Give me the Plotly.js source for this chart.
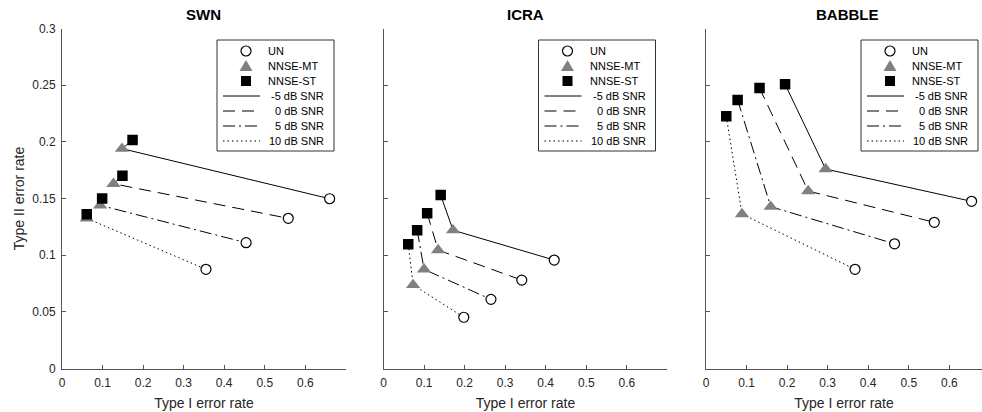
<!DOCTYPE html>
<html><head><meta charset="utf-8">
<script src="https://cdn.plot.ly/plotly-3.0.1.min.js"></script>
<style>html,body{margin:0;padding:0;background:#fff}#chart{width:982px;height:412px}</style>
</head><body><div id="chart"></div>
<script>
// ---------- data ----------
const panelTitles = ['SWN', 'ICRA', 'BABBLE'];
const methodNames = ['UN', 'NNSE-MT', 'NNSE-ST'];
const snrLabels = ['-5 dB SNR', '0 dB SNR', '5 dB SNR', '10 dB SNR'];
const xTickVals = [0, 0.1, 0.2, 0.3, 0.4, 0.5, 0.6];
const xTickText = ['0', '0.1', '0.2', '0.3', '0.4', '0.5', '0.6'];
const yTickVals = [0, 0.05, 0.1, 0.15, 0.2, 0.25, 0.3];
const yTickText = ['0', '0.05', '0.1', '0.15', '0.2', '0.25', '0.3'];

// order of points in each array: -5, 0, 5, 10 dB SNR
const swnUnX = [0.660, 0.558, 0.454, 0.355];
const swnUnY = [0.1498, 0.1325, 0.111, 0.0875];
const swnMtX = [0.148, 0.127, 0.094, 0.061];
const swnMtY = [0.194, 0.163, 0.144, 0.1325];
const swnStX = [0.174, 0.149, 0.099, 0.061];
const swnStY = [0.2016, 0.170, 0.150, 0.136];

const icraUnX = [0.421, 0.341, 0.265, 0.198];
const icraUnY = [0.0957, 0.078, 0.061, 0.0452];
const icraMtX = [0.1715, 0.1347, 0.100, 0.073];
const icraMtY = [0.122, 0.1045, 0.0875, 0.0737];
const icraStX = [0.141, 0.1077, 0.083, 0.061];
const icraStY = [0.153, 0.137, 0.122, 0.1096];

const babUnX = [0.655, 0.563, 0.465, 0.3675];
const babUnY = [0.1475, 0.129, 0.110, 0.0875];
const babMtX = [0.295, 0.252, 0.1595, 0.0888];
const babMtY = [0.176, 0.1566, 0.1428, 0.1363];
const babStX = [0.195, 0.132, 0.078, 0.050];
const babStY = [0.2508, 0.2475, 0.237, 0.2225];

const panelData = [
  {un: [swnUnX, swnUnY], mt: [swnMtX, swnMtY], st: [swnStX, swnStY]},
  {un: [icraUnX, icraUnY], mt: [icraMtX, icraMtY], st: [icraStX, icraStY]},
  {un: [babUnX, babUnY], mt: [babMtX, babMtY], st: [babStX, babStY]}
];

// ---------- styles / geometry ----------
const W = 982, H = 412;
const L = [62, 383.5, 706];        // pixel position of x = 0 for each panel
const unit = 405.5;                 // pixels per unit of x
const xFull = 0.7;
const yTop = 28.5, yBot = 368.5;
const FONT = 'Liberation Sans, Arial, Helvetica, sans-serif';
const TXT = '#262626';
const AX = '#555555';
const dashes = ['solid', '12px,7px', '12px,4px,2px,4px', '1.5px,3px'];
const MT_COLOR = '#808080';
const px = v => v / W;
const py = v => 1 - v / H;

const traces = [];
const layout = {
  width: W, height: H,
  margin: {l: 0, r: 0, t: 0, b: 0},
  paper_bgcolor: '#fff', plot_bgcolor: '#fff',
  showlegend: false,
  font: {family: FONT, color: TXT},
  shapes: [], annotations: []
};

panelData.forEach((d, i) => {
  const s = i === 0 ? '' : String(i + 1);
  const xa = 'x' + s, ya = 'y' + s;
  // SNR lines: ST -> MT -> UN
  for (let k = 0; k < 4; k++) {
    traces.push({
      type: 'scatter', mode: 'lines', xaxis: xa, yaxis: ya,
      x: [d.st[0][k], d.mt[0][k], d.un[0][k]],
      y: [d.st[1][k], d.mt[1][k], d.un[1][k]],
      line: {color: '#000', width: 1, dash: dashes[k]},
      name: snrLabels[k], hoverinfo: 'skip'
    });
  }
  traces.push({type: 'scatter', mode: 'markers', xaxis: xa, yaxis: ya,
    x: d.un[0], y: d.un[1], name: methodNames[0],
    marker: {symbol: 'circle', size: 10, color: '#fff', line: {color: '#000', width: 1.2}}});
  traces.push({type: 'scatter', mode: 'markers', xaxis: xa, yaxis: ya,
    x: d.mt[0], y: d.mt[1], name: methodNames[1],
    marker: {symbol: 'triangle-up', size: 12.5, color: MT_COLOR, line: {width: 0}}});
  traces.push({type: 'scatter', mode: 'markers', xaxis: xa, yaxis: ya,
    x: d.st[0], y: d.st[1], name: methodNames[2],
    marker: {symbol: 'square', size: 10.5, color: '#000', line: {width: 0}}});

  const right = Math.min(W, L[i] + xFull * unit);
  layout['xaxis' + s] = {
    domain: [px(L[i]), px(right)], range: [0, (right - L[i]) / unit],
    anchor: ya, showline: true, linecolor: AX, linewidth: 1,
    ticks: 'inside', ticklen: 4, tickcolor: AX, tickwidth: 1,
    tickvals: xTickVals, ticktext: xTickText, showgrid: false, zeroline: false,
    ticklabelstandoff: 3,
    tickfont: {size: 12, color: TXT, family: FONT},
    title: {text: 'Type I error rate', font: {size: 14, color: TXT, family: FONT}, standoff: 9},
    fixedrange: true
  };
  layout['yaxis' + s] = {
    domain: [py(yBot), py(yTop)], range: [0, 0.3],
    anchor: xa, showline: true, linecolor: AX, linewidth: 1,
    ticks: 'inside', ticklen: 4, tickcolor: AX, tickwidth: 1,
    tickvals: yTickVals, ticktext: yTickText, showticklabels: i === 0,
    showgrid: false, zeroline: false, ticklabelstandoff: 3,
    tickfont: {size: 12, color: TXT, family: FONT},
    title: i === 0 ? {text: 'Type II error rate', font: {size: 14, color: TXT, family: FONT}, standoff: 4} : {text: ''},
    fixedrange: true
  };

  // panel title
  const cx = L[i] + xFull * unit / 2;
  layout.annotations.push({
    xref: 'paper', yref: 'paper', x: px(cx), y: py(15), xanchor: 'center', yanchor: 'middle',
    text: panelTitles[i], showarrow: false,
    font: {size: 15, weight: 'bold', color: '#000', family: FONT}
  });

  // legend box
  const bx0 = L[i] + 155, bx1 = Math.min(W - 2, L[i] + 272), by0 = 40, by1 = 151;
  layout.shapes.push({type: 'rect', xref: 'paper', yref: 'paper',
    x0: px(bx0), x1: px(bx1), y0: py(by1), y1: py(by0),
    line: {color: '#333', width: 1}, fillcolor: '#fff', layer: 'above'});
  const rowY = r => 51 + 15 * r;
  const mx = L[i] + 184;
  // UN symbol
  layout.shapes.push({type: 'circle', xref: 'paper', yref: 'paper',
    x0: px(mx - 5), x1: px(mx + 5), y0: py(rowY(0) + 5), y1: py(rowY(0) - 5),
    line: {color: '#000', width: 1.2}, fillcolor: '#fff', layer: 'above'});
  // NNSE-MT symbol
  const ty = rowY(1);
  layout.shapes.push({type: 'path', xref: 'paper', yref: 'paper',
    path: `M ${px(mx - 6.5)},${py(ty + 5)} L ${px(mx + 6.5)},${py(ty + 5)} L ${px(mx)},${py(ty - 6)} Z`,
    line: {width: 0}, fillcolor: MT_COLOR, layer: 'above'});
  // NNSE-ST symbol
  const sy = rowY(2);
  layout.shapes.push({type: 'rect', xref: 'paper', yref: 'paper',
    x0: px(mx - 5), x1: px(mx + 5), y0: py(sy + 5), y1: py(sy - 5),
    line: {width: 0}, fillcolor: '#000', layer: 'above'});
  methodNames.forEach((m, r) => {
    layout.annotations.push({xref: 'paper', yref: 'paper', x: px(L[i] + 204), y: py(rowY(r)),
      xanchor: 'left', yanchor: 'middle', text: m, showarrow: false,
      font: {size: 11, color: '#000', family: FONT}});
  });
  snrLabels.forEach((lab, k) => {
    const yy = rowY(3 + k);
    layout.shapes.push({type: 'line', xref: 'paper', yref: 'paper',
      x0: px(L[i] + 161), x1: px(L[i] + 198), y0: py(yy), y1: py(yy),
      line: {color: '#000', width: 1, dash: dashes[k]}, layer: 'above'});
    layout.annotations.push({xref: 'paper', yref: 'paper', x: px(L[i] + 264), y: py(yy),
      xanchor: 'right', yanchor: 'middle', text: lab, showarrow: false,
      font: {size: 11, color: '#000', family: FONT}});
  });
});

Plotly.newPlot('chart', traces, layout, {displayModeBar: false, staticPlot: true});
</script>
</body></html>
